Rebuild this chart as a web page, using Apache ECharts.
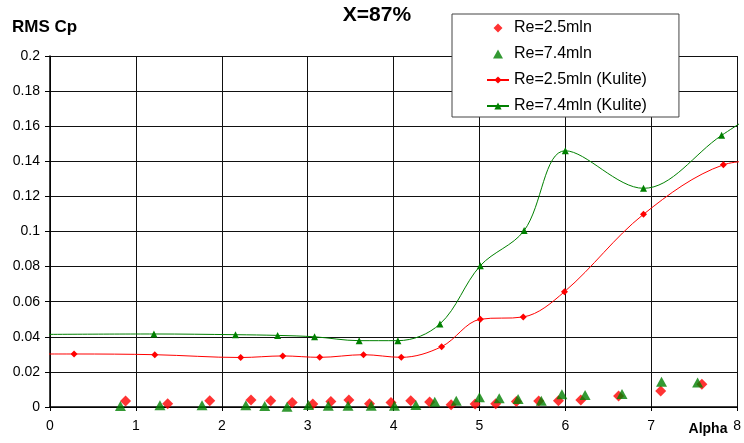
<!DOCTYPE html>
<html>
<head>
<meta charset="utf-8">
<script src="https://cdn.jsdelivr.net/npm/echarts@6/dist/echarts.min.js"></script>
<style>
html,body{margin:0;padding:0;background:#fff;}
#chart{width:744px;height:443px;}
</style>
</head>
<body>
<div id="chart"></div>
<script>
// ---- Data ----
const title = 'X=87%';
const yAxisTitle = 'RMS Cp';
const xAxisTitle = 'Alpha';
const seriesNames = ['Re=2.5mln', 'Re=7.4mln', 'Re=2.5mln (Kulite)', 'Re=7.4mln (Kulite)'];

const re25X = [0.88, 1.37, 1.86, 2.34, 2.57, 2.82, 3.06, 3.27, 3.48, 3.72, 3.97, 4.20, 4.42, 4.67, 4.95, 5.19, 5.43, 5.69, 5.92, 6.18, 6.62, 7.11, 7.59];
const re25Y = [0.0034, 0.0019, 0.0036, 0.0040, 0.0036, 0.0025, 0.0017, 0.0032, 0.0040, 0.0019, 0.0025, 0.0036, 0.0028, 0.0013, 0.0017, 0.0019, 0.0032, 0.0034, 0.0036, 0.0040, 0.0063, 0.0091, 0.0130];

const re74X = [0.82, 1.28, 1.77, 2.28, 2.50, 2.76, 3.01, 3.24, 3.47, 3.74, 4.01, 4.26, 4.48, 4.73, 5.00, 5.23, 5.45, 5.72, 5.96, 6.23, 6.66, 7.12, 7.54];
const re74Y = [0.0006, 0.0010, 0.0010, 0.0010, 0.0006, 0.0002, 0.0011, 0.0007, 0.0007, 0.0007, 0.0007, 0.0011, 0.0030, 0.0036, 0.0055, 0.0050, 0.0046, 0.0036, 0.0072, 0.0068, 0.0074, 0.0144, 0.0140];

const re25KX = [-0.3, 0.28, 1.22, 2.22, 2.71, 3.14, 3.65, 4.09, 4.56, 5.01, 5.51, 5.99, 6.91, 7.84, 8.3];
const re25KY = [0.0302, 0.0302, 0.0298, 0.0282, 0.0291, 0.0283, 0.0298, 0.0283, 0.0344, 0.0500, 0.0513, 0.0657, 0.1098, 0.1380, 0.1405];

const re74KX = [-0.3, 1.21, 2.16, 2.65, 3.08, 3.60, 4.05, 4.54, 5.01, 5.52, 6.00, 6.91, 7.82, 8.3];
const re74KY = [0.0413, 0.0416, 0.0412, 0.0408, 0.0400, 0.0378, 0.0378, 0.0473, 0.0805, 0.1005, 0.1460, 0.1246, 0.1548, 0.1700];

const xTicks = { min: 0, max: 8, interval: 1 };
const yTicks = { min: 0, max: 0.2, interval: 0.02 };

// ---- Build ----
const zip = (xs, ys) => xs.map((x, i) => [x, ys[i]]);
const RED = '#ff0000', GREEN = '#008000';
const FONT = '"Liberation Sans", Arial, sans-serif';
// legend icons padded to the full 22x9 icon box so the marker keeps its shape
const PAD = 'M0 0L0.01 0Z M22 9L21.99 9Z ';
const legendDiamond = 'path://' + PAD + 'M11 0L15.5 4.5L11 9L6.5 4.5Z';
const legendTriangle = 'path://' + PAD + 'M11 0L16 9L6 9Z';

const chart = echarts.init(document.getElementById('chart'), null, { renderer: 'canvas' });
chart.setOption({
  backgroundColor: '#ffffff',
  animation: false,
  textStyle: { fontFamily: FONT },
  grid: { left: 50, top: 56, width: 691, height: 351, containLabel: false },
  xAxis: {
    type: 'value', min: xTicks.min, max: xTicks.max, interval: xTicks.interval,
    axisLine: { show: true, onZero: false, lineStyle: { color: '#000', width: 1.5 } },
    axisTick: { show: true, length: 4, lineStyle: { color: '#000' } },
    axisLabel: { color: '#000', fontSize: 14, fontFamily: FONT, margin: 12 },
    splitLine: { show: true, lineStyle: { color: '#111', width: 1 } }
  },
  yAxis: {
    type: 'value', min: yTicks.min, max: yTicks.max, interval: yTicks.interval,
    axisLine: { show: true, onZero: false, lineStyle: { color: '#000', width: 1.5 } },
    axisTick: { show: true, length: 5, lineStyle: { color: '#000' } },
    axisLabel: { color: '#000', fontSize: 14, fontFamily: FONT, margin: 10 },
    splitLine: { show: true, lineStyle: { color: '#111', width: 1 } }
  },
  legend: {
    orient: 'vertical', left: 452, top: 14,
    padding: [6, 32, 3, 34],
    itemWidth: 22, itemHeight: 9, itemGap: 10,
    backgroundColor: '#fff', borderColor: '#444', borderWidth: 1,
    textStyle: { color: '#000', fontSize: 16, fontFamily: FONT, lineHeight: 16 },
    data: [
      { name: seriesNames[0], icon: legendDiamond },
      { name: seriesNames[1], icon: legendTriangle },
      { name: seriesNames[2] },
      { name: seriesNames[3] }
    ]
  },
  graphic: [
    { type: 'text', style: { text: title, x: 377, y: 15, fill: '#000', font: 'bold 21px ' + FONT, textAlign: 'center', textVerticalAlign: 'middle' }, z: 10 },
    { type: 'text', style: { text: yAxisTitle, x: 12, y: 27.5, fill: '#000', font: 'bold 17px ' + FONT, textAlign: 'left', textVerticalAlign: 'middle' }, z: 10 },
    { type: 'text', style: { text: xAxisTitle, x: 708, y: 429, fill: '#000', font: 'bold 14px ' + FONT, textAlign: 'center', textVerticalAlign: 'middle' }, z: 10 }
  ],
  series: [
    { name: seriesNames[0], type: 'scatter', symbol: 'diamond', symbolSize: 11,
      itemStyle: { color: RED }, data: zip(re25X, re25Y), z: 3 },
    { name: seriesNames[1], type: 'scatter', symbol: 'triangle', symbolSize: [11, 10],
      itemStyle: { color: GREEN }, data: zip(re74X, re74Y), z: 4 },
    { name: seriesNames[2], type: 'line', symbol: 'diamond', symbolSize: 7, showSymbol: true,
      smooth: 0.35, clip: true,
      lineStyle: { color: RED, width: 1 }, itemStyle: { color: RED },
      data: zip(re25KX, re25KY), z: 5 },
    { name: seriesNames[3], type: 'line', symbol: 'triangle', symbolSize: 7, showSymbol: true,
      smooth: 0.35, clip: true,
      lineStyle: { color: GREEN, width: 1 }, itemStyle: { color: GREEN },
      data: zip(re74KX, re74KY), z: 6 }
  ]
});
</script>
</body>
</html>
